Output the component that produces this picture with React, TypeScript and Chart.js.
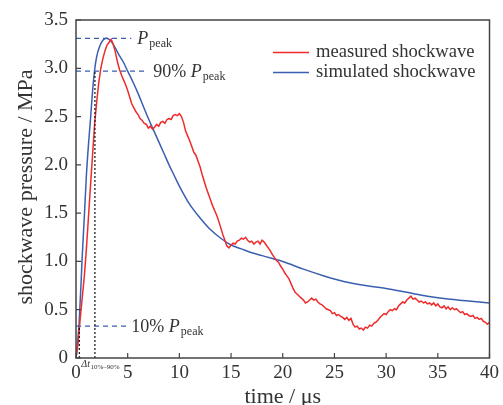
import React, { useEffect, useRef } from "react";
import { Chart, registerables } from "chart.js";

Chart.register(...registerables);

// ---------- data ----------
const simTime = [
  0, 0.1, 0.2, 0.3, 0.4, 0.5, 0.6, 0.8, 1.0, 1.2, 1.4, 1.6, 1.8, 2.0, 2.3, 2.6, 2.95, 3.3, 3.7, 4.2, 4.6, 5.0,
  5.5, 6.0, 6.5, 7.0, 7.5, 8.0, 8.5, 9.0, 9.5, 10.0, 11.0, 12.0, 13.0, 14.0, 15.0, 16.0, 17.0, 18.0, 19.0,
  20.0, 22.0, 24.0, 26.0, 28.0, 30.0, 32.0, 34.0, 36.0, 38.0, 40.0,
];
const simPressure = [
  0, 0.1, 0.22, 0.36, 0.58, 0.8, 1.05, 1.45, 1.88, 2.2, 2.47, 2.76, 2.98, 3.12, 3.23, 3.29, 3.31, 3.29, 3.23,
  3.13, 3.06, 2.97, 2.86, 2.74, 2.61, 2.48, 2.36, 2.24, 2.12, 2.0, 1.89, 1.78, 1.59, 1.45, 1.33, 1.24, 1.17,
  1.13, 1.09, 1.06, 1.03, 1.0, 0.92, 0.85, 0.79, 0.75, 0.72, 0.68, 0.64, 0.61, 0.59, 0.57,
];

// measured record, sampled every 0.2 µs from t = 0
const measuredStep = 0.2;
const measuredPressure = [
  0, 0.15, 0.4, 0.62, 0.84, 1.12, 1.45, 1.78, 2.1, 2.42, 2.65, 2.85, 3.0, 3.1, 3.18, 3.24, 3.27, 3.3, 3.25, 3.17,
  3.07, 2.99, 2.93, 2.88, 2.83, 2.77, 2.7, 2.63, 2.59, 2.55, 2.52, 2.48, 2.46, 2.43, 2.42, 2.38, 2.4, 2.37, 2.39, 2.42,
  2.4, 2.44, 2.45, 2.43, 2.47, 2.48, 2.47, 2.51, 2.52, 2.51, 2.53, 2.5, 2.44, 2.35, 2.3, 2.25, 2.19, 2.13, 2.1, 2.04,
  1.98, 1.9, 1.83, 1.76, 1.7, 1.64, 1.58, 1.53, 1.48, 1.42, 1.35, 1.28, 1.22, 1.16, 1.14, 1.17, 1.19, 1.18, 1.21, 1.22,
  1.24, 1.23, 1.25, 1.22, 1.2, 1.21, 1.18, 1.2, 1.21, 1.18, 1.22, 1.2, 1.17, 1.14, 1.11, 1.07, 1.04, 1.01, 0.99, 0.95,
  0.92, 0.88, 0.85, 0.82, 0.77, 0.72, 0.68, 0.66, 0.64, 0.62, 0.6, 0.57, 0.58, 0.6, 0.62, 0.6, 0.61, 0.58, 0.56, 0.55,
  0.53, 0.51, 0.5, 0.49, 0.46, 0.47, 0.44, 0.45, 0.43, 0.42, 0.4, 0.42, 0.39, 0.41, 0.35, 0.32, 0.33, 0.3, 0.31, 0.29,
  0.32, 0.31, 0.34, 0.33, 0.36, 0.37, 0.39, 0.42, 0.44, 0.46, 0.45, 0.48, 0.5, 0.49, 0.51, 0.5, 0.54, 0.56, 0.58, 0.57,
  0.6, 0.62, 0.64, 0.61, 0.62, 0.6, 0.58, 0.59, 0.57, 0.58, 0.56, 0.57, 0.55, 0.57, 0.54, 0.56, 0.53, 0.52, 0.54, 0.51,
  0.53, 0.5, 0.52, 0.5, 0.51, 0.49, 0.47, 0.48, 0.45, 0.46, 0.44, 0.43, 0.44, 0.41, 0.42, 0.4, 0.41, 0.38, 0.37, 0.35,
  0.37,
];

const xTickValues = [0, 5, 10, 15, 20, 25, 30, 35, 40];
const yTickValues = [0, 0.5, 1.0, 1.5, 2.0, 2.5, 3.0, 3.5];

// annotation levels
const pPeak = 3.31;
const p90 = 2.97;
const p10 = 0.33;
const t10 = 0.32;
const t90 = 1.83;
const peakLineEnd = 5.35;
const p90LineEnd = 6.8;
const p10LineEnd = 4.87;

const seriesLabels = ["measured shockwave", "simulated shockwave"];
const RED = "#ee2a2a";
const BLUE = "#3a5fb0";
const TEXT = "#333333";
const SERIF = "'Liberation Serif', 'Times New Roman', serif";

const decorPlugin = {
  id: "decor",
  afterDatasetsDraw(chart: any) {
    const { ctx, chartArea: a, scales } = chart;
    const xs = scales.x;
    const ys = scales.y;
    ctx.save();

    // dashed blue reference lines
    ctx.strokeStyle = BLUE;
    ctx.lineWidth = 1.2;
    ctx.setLineDash([5, 4]);
    const hline = (p: number, tEnd: number) => {
      const y = ys.getPixelForValue(p);
      ctx.beginPath();
      ctx.moveTo(a.left, y);
      ctx.lineTo(xs.getPixelForValue(tEnd), y);
      ctx.stroke();
    };
    hline(pPeak, peakLineEnd);
    hline(p90, p90LineEnd);
    hline(p10, p10LineEnd);

    // dotted black verticals
    ctx.strokeStyle = "#111";
    ctx.lineWidth = 1.2;
    ctx.setLineDash([2, 2]);
    const vline = (t: number, p: number) => {
      const x = xs.getPixelForValue(t);
      ctx.beginPath();
      ctx.moveTo(x, a.bottom);
      ctx.lineTo(x, ys.getPixelForValue(p));
      ctx.stroke();
    };
    vline(t10, p10);
    vline(t90, p90);
    ctx.setLineDash([]);

    // labels
    ctx.fillStyle = TEXT;
    ctx.textBaseline = "alphabetic";
    ctx.textAlign = "left";
    const pLabel = (x: number, baseY: number, prefix: string) => {
      let cx = x;
      if (prefix) {
        ctx.font = `18px ${SERIF}`;
        ctx.fillText(prefix, cx, baseY);
        cx += ctx.measureText(prefix).width;
      }
      ctx.font = `italic 18px ${SERIF}`;
      ctx.fillText("P", cx, baseY);
      cx += ctx.measureText("P").width + 1;
      ctx.font = `12px ${SERIF}`;
      ctx.fillText("peak", cx, baseY + 3);
    };
    const peakY = ys.getPixelForValue(pPeak);
    const y90 = ys.getPixelForValue(p90);
    const y10 = ys.getPixelForValue(p10);
    pLabel(xs.getPixelForValue(peakLineEnd) + 6, peakY + 6, "");
    pLabel(xs.getPixelForValue(p90LineEnd) + 7, y90 + 6, "90% ");
    pLabel(xs.getPixelForValue(p10LineEnd) + 5, y10 + 6, "10% ");

    // delta t label
    const dx = xs.getPixelForValue(t10) + 2;
    ctx.font = `italic 10px ${SERIF}`;
    ctx.fillText("\u0394t", dx, a.bottom + 9);
    const w = ctx.measureText("\u0394t").width;
    ctx.font = `7px ${SERIF}`;
    ctx.fillText("10%\u201390%", dx + w + 0.5, a.bottom + 11);

    // legend
    ctx.font = `18.6px ${SERIF}`;
    ctx.textBaseline = "middle";
    const legend = [
      { label: seriesLabels[0], color: RED, y: 52 },
      { label: seriesLabels[1], color: BLUE, y: 72 },
    ];
    for (const l of legend) {
      ctx.strokeStyle = l.color;
      ctx.lineWidth = 1.5;
      ctx.beginPath();
      ctx.moveTo(273, l.y + 0.5);
      ctx.lineTo(309, l.y + 0.5);
      ctx.stroke();
      ctx.fillStyle = TEXT;
      ctx.fillText(l.label, 316, l.y);
    }

    // axis titles
    ctx.font = `22px ${SERIF}`;
    ctx.textAlign = "center";
    ctx.textBaseline = "middle";
    ctx.fillText("time / \u03bcs", (a.left + a.right) / 2, 397);
    ctx.save();
    ctx.translate(26, 187);
    ctx.rotate(-Math.PI / 2);
    ctx.fillText("shockwave pressure / MPa", 0, 0);
    ctx.restore();

    // frame and inward ticks
    ctx.strokeStyle = "#444";
    ctx.lineWidth = 1.5;
    ctx.strokeRect(a.left, a.top, a.right - a.left, a.bottom - a.top);
    ctx.lineWidth = 1.2;
    ctx.beginPath();
    for (const v of xTickValues) {
      const x = xs.getPixelForValue(v);
      ctx.moveTo(x, a.bottom);
      ctx.lineTo(x, a.bottom - 5);
    }
    for (const v of yTickValues) {
      const y = ys.getPixelForValue(v);
      ctx.moveTo(a.left, y);
      ctx.lineTo(a.left + 5, y);
    }
    ctx.stroke();
    ctx.restore();
  },
};

export default function App() {
  const canvasRef = useRef<HTMLCanvasElement | null>(null);

  useEffect(() => {
    const canvas = canvasRef.current;
    if (!canvas) return;
    const measured = measuredPressure.map((p, i) => ({ x: +(i * measuredStep).toFixed(2), y: p }));
    const simulated = simTime.map((t, i) => ({ x: t, y: simPressure[i] }));

    const chart = new Chart(canvas, {
      type: "line",
      data: {
        datasets: [
          {
            label: seriesLabels[0],
            data: measured,
            borderColor: RED,
            borderWidth: 1.5,
            pointRadius: 0,
            tension: 0,
          },
          {
            label: seriesLabels[1],
            data: simulated,
            borderColor: BLUE,
            borderWidth: 1.5,
            pointRadius: 0,
            cubicInterpolationMode: "monotone",
          },
        ],
      },
      options: {
        animation: false,
        responsive: false,
        maintainAspectRatio: false,
        layout: { padding: { top: 20, right: 11, left: 0, bottom: 0 } },
        plugins: { legend: { display: false }, tooltip: { enabled: false } },
        scales: {
          x: {
            type: "linear",
            min: 0,
            max: 40,
            afterBuildTicks: (s: any) => {
              s.ticks = xTickValues.map((v) => ({ value: v }));
            },
            afterFit: (s: any) => {
              s.height = 47;
            },
            grid: { display: false, drawTicks: false },
            border: { display: false },
            ticks: {
              padding: 4,
              color: TEXT,
              font: { family: SERIF, size: 19 },
              maxRotation: 0,
              autoSkip: false,
            },
          },
          y: {
            type: "linear",
            min: 0,
            max: 3.5,
            afterBuildTicks: (s: any) => {
              s.ticks = yTickValues.map((v) => ({ value: v }));
            },
            afterFit: (s: any) => {
              s.width = 76;
            },
            grid: { display: false, drawTicks: false },
            border: { display: false },
            ticks: {
              padding: 8,
              color: TEXT,
              font: { family: SERIF, size: 19 },
              autoSkip: false,
              callback: (v: any) => (Number(v) === 0 ? "0" : Number(v).toFixed(1)),
            },
          },
        },
      },
      plugins: [decorPlugin],
    });
    return () => chart.destroy();
  }, []);

  return (
    <div style={{ position: "fixed", left: 0, top: 0, width: 503, height: 405, background: "#fff" }}>
      <canvas ref={canvasRef} width={503} height={405} style={{ display: "block", width: 503, height: 405 }} />
    </div>
  );
}
